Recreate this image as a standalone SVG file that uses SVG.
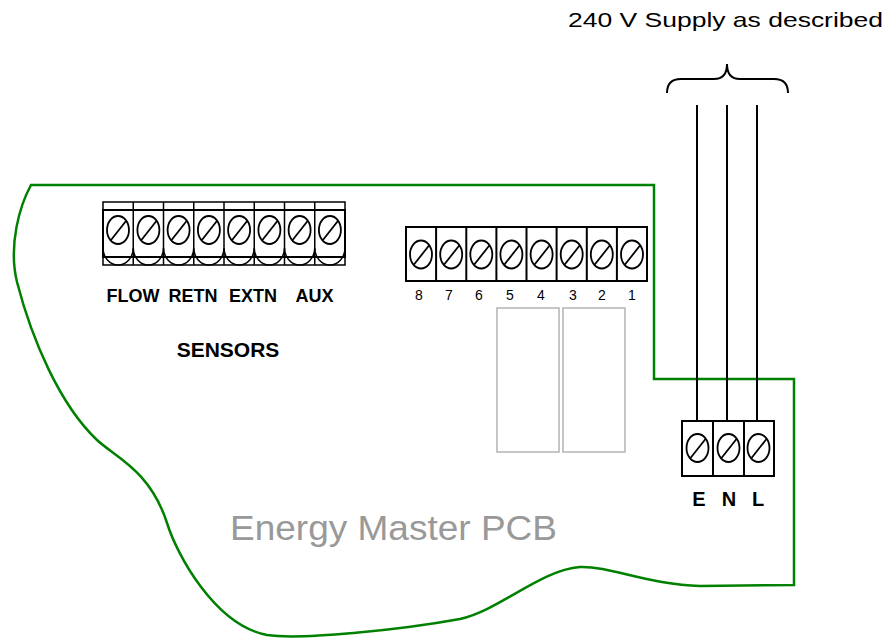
<svg xmlns="http://www.w3.org/2000/svg" xmlns:xlink="http://www.w3.org/1999/xlink" width="891" height="638" viewBox="0 0 891 638">
<style>
.blk{fill:#fff;stroke:#000;stroke-width:2}
.thin{fill:none;stroke:#000;stroke-width:1.5}
.wire{fill:none;stroke:#000;stroke-width:2}
.pcb{fill:none;stroke:#008000;stroke-width:2.5;stroke-linejoin:miter}
.relay{fill:none;stroke:#c0c0c0;stroke-width:1.8}
.lbl{font-family:"Liberation Sans",Arial,sans-serif;font-weight:bold;fill:#000;text-anchor:middle}
.num{font-family:"Liberation Sans",Arial,sans-serif;font-size:14px;fill:#000;text-anchor:middle}
</style>
<defs>
<g id="screw">
<ellipse cx="0" cy="0" rx="11" ry="14" fill="none" stroke="#000" stroke-width="1.8"/>
<line x1="-7" y1="10" x2="8" y2="-9" stroke="#000" stroke-width="1.8"/>
</g>
</defs>
<rect width="891" height="638" fill="#fff"/>

<g id="pcb-outline">
<path class="pcb" d="M31,185 C20,205 8,245 17,282 C32,340 60,405 97,440 C115,457 150,470 167,523 C177,555 215,625 267,635 C300,640 400,630 460,619 C500,610 540,570 580,567 C610,566 650,585 700,586 L794,585 L794,379 L654,379 L654,185 Z"/>
</g>

<g id="relays">
<rect class="relay" x="497" y="308" width="62" height="144"/>
<rect class="relay" x="563" y="308" width="62" height="144"/>
</g>

<g id="sensor-terminals">
<rect x="103" y="202" width="242" height="63" fill="#fff" stroke="#000" stroke-width="1.5"/>
<rect class="blk" x="103" y="210" width="242" height="47"/>
<path class="thin" d="M133.25,202V265M163.5,202V265M193.75,202V265M224,202V265M254.25,202V265M284.5,202V265M314.75,202V265"/>
<path class="thin" d="M103,248A15.1,17 0 0 0 133.25,248M133.25,248A15.1,17 0 0 0 163.5,248M163.5,248A15.1,17 0 0 0 193.75,248M193.75,248A15.1,17 0 0 0 224,248M224,248A15.1,17 0 0 0 254.25,248M254.25,248A15.1,17 0 0 0 284.5,248M284.5,248A15.1,17 0 0 0 314.75,248M314.75,248A15.1,17 0 0 0 345,248"/>
<use xlink:href="#screw" x="118" y="230"/>
<use xlink:href="#screw" x="148.4" y="230"/>
<use xlink:href="#screw" x="178.6" y="230"/>
<use xlink:href="#screw" x="208.9" y="230"/>
<use xlink:href="#screw" x="239.1" y="230"/>
<use xlink:href="#screw" x="269.4" y="230"/>
<use xlink:href="#screw" x="299.6" y="230"/>
<use xlink:href="#screw" x="329.9" y="230"/>
<text class="lbl" x="133" y="302" font-size="18">FLOW</text>
<text class="lbl" x="193" y="302" font-size="18">RETN</text>
<text class="lbl" x="253" y="302" font-size="18">EXTN</text>
<text class="lbl" x="314.5" y="302" font-size="18">AUX</text>
<text class="lbl" x="228" y="357" font-size="21">SENSORS</text>
</g>

<g id="output-terminals">
<rect class="blk" x="406" y="227" width="241" height="54"/>
<path class="wire" d="M436.1,227V281M466.3,227V281M496.4,227V281M526.5,227V281M556.6,227V281M586.8,227V281M616.9,227V281"/>
<use xlink:href="#screw" x="421" y="254.5"/>
<use xlink:href="#screw" x="451.2" y="254.5"/>
<use xlink:href="#screw" x="481.3" y="254.5"/>
<use xlink:href="#screw" x="511.4" y="254.5"/>
<use xlink:href="#screw" x="541.6" y="254.5"/>
<use xlink:href="#screw" x="571.7" y="254.5"/>
<use xlink:href="#screw" x="601.8" y="254.5"/>
<use xlink:href="#screw" x="632" y="254.5"/>
<text class="num" x="419" y="300">8</text>
<text class="num" x="449" y="300">7</text>
<text class="num" x="479" y="300">6</text>
<text class="num" x="510" y="300">5</text>
<text class="num" x="541" y="300">4</text>
<text class="num" x="573" y="300">3</text>
<text class="num" x="602" y="300">2</text>
<text class="num" x="632" y="300">1</text>
</g>

<g id="supply-terminals">
<rect class="blk" x="682" y="421" width="92" height="55"/>
<path class="wire" d="M713,421V476M744,421V476"/>
<use xlink:href="#screw" x="697.5" y="448"/>
<use xlink:href="#screw" x="728.5" y="448"/>
<use xlink:href="#screw" x="758.5" y="448"/>
<text class="lbl" x="699" y="506" font-size="20">E</text>
<text class="lbl" x="729" y="506" font-size="20">N</text>
<text class="lbl" x="758" y="506" font-size="20">L</text>
</g>

<g id="connectors">
<path class="wire" d="M697,105V421M727,105V421M757,105V421"/>
<path class="wire" d="M667,93Q667,79 681,79L714,79Q727,79 727,64Q727,79 740,79L774,79Q788,79 788,93"/>
</g>

<g id="labels">
<text x="568" y="27" font-family="'Liberation Sans',Arial,sans-serif" font-size="21" textLength="315" lengthAdjust="spacingAndGlyphs" fill="#000">240 V Supply as described</text>
<text x="230" y="540" font-family="'Liberation Sans',Arial,sans-serif" font-size="35" textLength="327" lengthAdjust="spacingAndGlyphs" fill="#999">Energy Master PCB</text>
</g>
</svg>
